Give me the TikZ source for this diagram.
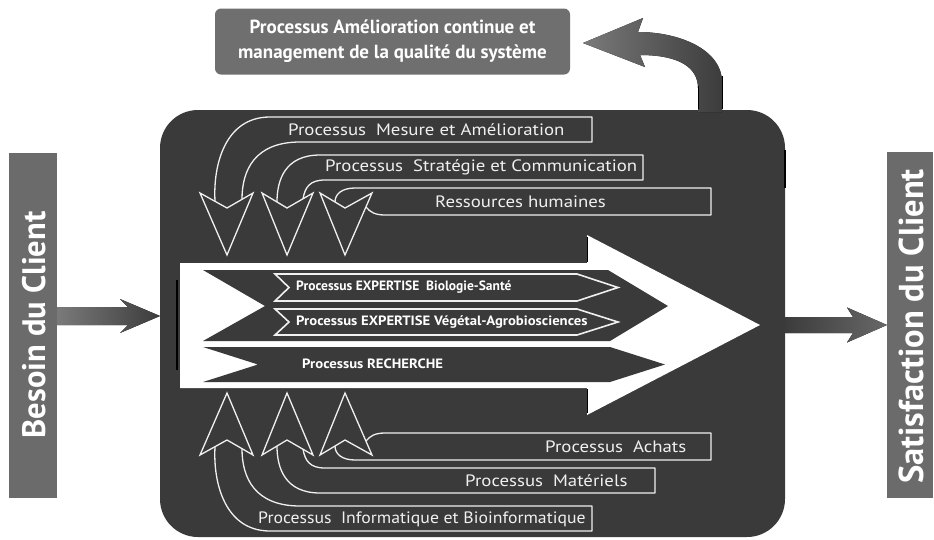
\documentclass[tikz,border=0pt]{standalone}
\usepackage{fontspec}
\setmainfont{PT Sans}
\usetikzlibrary{calc}
\definecolor{boxdark}{HTML}{3A3A3A}
\definecolor{bargray}{HTML}{6B6B6B}
\definecolor{topgray}{HTML}{6F6F6F}
\definecolor{linew}{HTML}{F0F0F0}
\definecolor{arrlight}{HTML}{7A7A7A}
\definecolor{arrdark}{HTML}{3C3C3C}
\newcommand{\wlbl}[1]{\scalebox{1.14}[1]{#1}}
\begin{document}
\begin{tikzpicture}[x=1pt,y=-1pt,
  outl/.style={draw=linew, line width=1.3pt, line join=round},
  headst/.style={fill=boxdark, draw=linew, line width=1.3pt, line join=miter},
  lbl/.style={text=linew, font=\fontsize{16.5}{18}\selectfont, inner sep=0, anchor=west},
  blab/.style={text=white, font=\bfseries\fontsize{13.5}{15}\selectfont, inner sep=0, anchor=west},
  bigbar/.style={fill=bargray, inner sep=0},
  bartext/.style={text=white, font=\bfseries\fontsize{34}{36}\selectfont, rotate=90, inner sep=0},
  artefact/.style={draw=black, line width=1.2pt}
]
\useasboundingbox (0,0) rectangle (934,539);
\fill[white] (0,0) rectangle (934,539);

% side bars
\node[bigbar, minimum width=48pt, minimum height=345pt] (besoin) at (33,325.5) {};
\node[bartext, font=\bfseries\fontsize{32.5}{34}\selectfont] (besointxt) at (34,325) {Besoin du Client};
\node[bigbar, minimum width=46pt, minimum height=346pt] (satisf) at (910,325) {};
\node[bartext, font=\bfseries\fontsize{34.5}{36}\selectfont] (satisftxt) at (911,326.5) {Satisfaction du Client};

% top box
\node[fill=topgray, rounded corners=6pt, minimum width=355pt, minimum height=66pt, inner sep=0,
      text=white, font=\bfseries\fontsize{19}{25}\selectfont, align=center] (topbox) at (392.5,41.5)
      {Processus Amélioration continue et\\management de la qualité du système};

% main dark box
\node[fill=boxdark, rounded corners=38pt, minimum width=625pt, minimum height=427pt, inner sep=0] (main) at (472.5,323.5) {};
\draw[artefact] (785,150) -- (785,188);

% curved arrow back to the top box
\coordinate (qa) at (710,112);
\coordinate (qt) at (583,43);
\fill[left color=arrlight, right color=arrdark]
  (qt) -- (645,67) -- (640,55) .. controls (680,55) and (698,68) .. (698,88)
  -- ($(qa)+(-12,0)$) -- ($(qa)+(12,0)$) -- (722,82)
  .. controls (722,50) and (680,32) .. (638,32) -- (643,18) -- cycle;
\draw[artefact, line width=0.9pt] (698,86) -- (698,109) (722,76) -- (722,109);

% left and right arrows
\coordinate (inL) at (160,316);
\coordinate (outR) at (887,325);
\fill[left color=arrlight, right color=arrdark]
  let \p1=(besoin.east |- inL), \p2=(inL) in
  (\x1,\y1+9pt) -- (\x2-32pt,\y1+9pt) -- (\x2-40pt,\y1+17pt) -- (\x2,\y1)
  -- (\x2-40pt,\y1-17pt) -- (\x2-32pt,\y1-9pt) -- (\x1,\y1-9pt) -- cycle;
\fill[left color=arrdark, right color=arrlight!85!black]
  let \p1=(main.east |- outR), \p2=(outR) in
  (\x1,\y1+8pt) -- (\x2-34pt,\y1+8pt) -- (\x2-40pt,\y1+17.5pt) -- (\x2,\y1)
  -- (\x2-40pt,\y1-17.5pt) -- (\x2-34pt,\y1-8pt) -- (\x1,\y1-8pt) -- cycle;

% big white arrow
\fill[white] (180,263) -- (587,263) -- (587,235) -- (760,325) -- (587,415) -- (587,388) -- (180,388) -- cycle;
\draw[artefact] (177,280) -- (177,370);
\draw[artefact, line width=0.8pt] (587,237) -- (587,262) (587,389) -- (587,413);

% dark chevron bands
\fill[boxdark] (203,270) -- (608,270) -- (668,306) -- (610,341) -- (203,341) -- (265,306) -- cycle;
\fill[boxdark] (203,347) -- (610,347) -- (665,364.5) -- (610,382) -- (203,382) -- (258,364.5) -- cycle;
\draw[fill=boxdark, draw=linew, line width=1.6pt] (275,274) -- (577,274) -- (618,287.5) -- (577,301) -- (275,301) -- (289,287.5) -- cycle;
\draw[fill=boxdark, draw=linew, line width=1.6pt] (275,309) -- (577,309) -- (618,322) -- (577,335) -- (275,335) -- (289,322) -- cycle;
\node[blab] (bio) at (296,287.5) {\scalebox{1.0}[1]{Processus EXPERTISE\ \ Biologie-Santé}};
\node[blab] (veg) at (296,322) {\scalebox{1.09}[1]{Processus EXPERTISE Végétal-Agrobiosciences}};
\node[blab] (rech) at (302,364) {\scalebox{1.09}[1]{Processus RECHERCHE}};

% upper support processes (arrows pointing down)
\draw[outl] (215,201) .. controls (213,165) and (225,117) .. (270,117) -- (592,117) -- (592,142) -- (300,142) .. controls (255,142) and (242,170) .. (242,199);
\draw[headst] (200,193) -- (227,255) -- (253,193) -- (227,208) -- cycle;
\draw[outl] (277,202) .. controls (277,180) and (285,155) .. (320,155) -- (643,155) -- (643,180) -- (325,180) .. controls (310,180) and (305,187) .. (303,199);
\draw[headst] (262,193) -- (287,255) -- (313,193) -- (287,208) -- cycle;
\draw[outl] (335,202) .. controls (335,194) and (342,188) .. (355,188) -- (711,188) -- (711,215) -- (385,215) .. controls (375,215) and (370,212) .. (366,207);
\draw[headst] (320,193) -- (345,255) -- (372,193) -- (345,208) -- cycle;
\node[lbl] (mesure) at (288,130) {\wlbl{Processus\ \ Mesure et Amélioration}};
\node[lbl] (strat) at (325,167.5) {\wlbl{Processus\ \ Stratégie et Communication}};
\node[lbl] (rh) at (435,201.5) {\wlbl{Ressources humaines}};

% lower support processes (arrows pointing up)
\draw[outl] (215,447) .. controls (213,483) and (225,531) .. (270,531) -- (592,531) -- (592,506) -- (300,506) .. controls (255,506) and (242,478) .. (242,449);
\draw[headst] (200,455) -- (227,393) -- (253,455) -- (227,440) -- cycle;
\draw[outl] (277,446) .. controls (277,468) and (285,493) .. (320,493) -- (655,493) -- (655,468) -- (325,468) .. controls (310,468) and (305,461) .. (303,449);
\draw[headst] (262,455) -- (287,393) -- (313,455) -- (287,440) -- cycle;
\draw[outl] (335,446) .. controls (335,454) and (342,460) .. (355,460) -- (711,460) -- (711,433) -- (385,433) .. controls (375,433) and (370,436) .. (366,441);
\draw[headst] (320,455) -- (345,393) -- (372,455) -- (345,440) -- cycle;
\node[lbl] (achats) at (545,446.5) {\wlbl{Processus\ \ Achats}};
\node[lbl] (mat) at (465,481) {\wlbl{Processus\ \ Matériels}};
\node[lbl] (info) at (258,519) {\scalebox{1.075}[1]{Processus\ \ Informatique et Bioinformatique}};
\end{tikzpicture}
\end{document}
